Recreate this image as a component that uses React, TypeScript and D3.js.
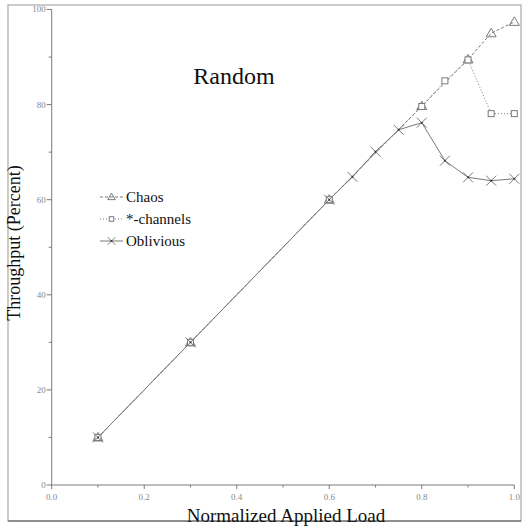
import * as d3 from "d3";

// loads on the x axis
const chaosLoad = [0.1, 0.3, 0.6, 0.8, 0.9, 0.95, 1.0];
const chaosThroughput = [10, 30, 60, 79.7, 89.5, 95, 97.4];

const starLoad = [0.1, 0.3, 0.6, 0.8, 0.85, 0.9, 0.95, 1.0];
const starThroughput = [10, 30, 60, 79.6, 85, 89.4, 78.1, 78.1];

const obliviousLoad = [0.1, 0.3, 0.6, 0.65, 0.7, 0.75, 0.8, 0.85, 0.9, 0.95, 1.0];
const obliviousThroughput = [10, 30, 60, 64.8, 70.1, 74.7, 76.2, 68.2, 64.7, 64.0, 64.4];

const xTicks = [0, 0.2, 0.4, 0.6, 0.8, 1.0];
const yTicks = [0, 20, 40, 60, 80, 100];
const legendNames = ["Chaos", "*-channels", "Oblivious"];

const W = 523;
const H = 527;
const serif = "'Liberation Serif', 'DejaVu Serif', serif";
const grey = "#7a7a7a";

type Pt = [number, number];

function Marker({ kind, x, y, s = 1 }: { kind: string; x: number; y: number; s?: number }) {
  if (kind === "tri") {
    return (
      <path
        d={`M${x},${y - 5 * s}L${x + 5 * s},${y + 3.5 * s}L${x - 5 * s},${y + 3.5 * s}Z`}
        fill="none"
        stroke={grey}
        strokeWidth={1}
      />
    );
  }
  if (kind === "sq") {
    return <rect x={x - 3 * s} y={y - 3 * s} width={6 * s} height={6 * s} fill="white" stroke={grey} strokeWidth={1} />;
  }
  return (
    <g stroke={grey} strokeWidth={1}>
      <line x1={x - 5 * s} y1={y - 5 * s} x2={x + 5 * s} y2={y + 5 * s} />
      <line x1={x - 5 * s} y1={y + 5 * s} x2={x + 5 * s} y2={y - 5 * s} />
      <circle cx={x} cy={y} r={1} fill="#333" stroke="none" />
    </g>
  );
}

export default function App() {
  const x = d3.scaleLinear().domain([0, 1]).range([51.7, 514.3]);
  const y = d3.scaleLinear().domain([0, 100]).range([485, 9.5]);
  const line = d3
    .line<Pt>()
    .x((d) => x(d[0]))
    .y((d) => y(d[1]));

  const series = [
    { name: legendNames[0], pts: chaosLoad.map((l, i) => [l, chaosThroughput[i]] as Pt), kind: "tri", dash: "3,2" },
    { name: legendNames[1], pts: starLoad.map((l, i) => [l, starThroughput[i]] as Pt), kind: "sq", dash: "1,2" },
    { name: legendNames[2], pts: obliviousLoad.map((l, i) => [l, obliviousThroughput[i]] as Pt), kind: "x", dash: undefined },
  ];

  const xMinor = d3.range(0.1, 1, 0.2);
  const yMinor = d3.range(10, 100, 20);

  return (
    <svg
      width={W}
      height={H}
      style={{ position: "absolute", left: 0, top: 0, background: "white" }}
      fontFamily={serif}
    >
      <rect x={8} y={5} width={513} height={516} fill="none" stroke="#aaa" strokeWidth={1.2} />
      <line x1={8} y1={521} x2={521} y2={521} stroke="#555" strokeWidth={1.2} />

      {/* axes */}
      <line x1={x(0)} y1={y(0)} x2={x(1)} y2={y(0)} stroke={grey} />
      <line x1={x(0)} y1={y(0)} x2={x(0)} y2={y(100)} stroke={grey} />
      {yTicks.map((t) => (
        <g key={"y" + t}>
          <line x1={x(0) - 5} x2={x(0)} y1={y(t)} y2={y(t)} stroke={grey} />
          <text x={x(0) - 6} y={y(t)} dy="0.33em" fontSize={9} textAnchor="end" fill="#888">
            {t}
          </text>
        </g>
      ))}
      {yMinor.map((t) => (
        <line key={"ym" + t} x1={x(0) - 3} x2={x(0)} y1={y(t)} y2={y(t)} stroke={grey} />
      ))}
      {xTicks.map((t) => (
        <g key={"x" + t}>
          <line x1={x(t)} x2={x(t)} y1={y(0)} y2={y(0) + 4} stroke={grey} />
          <text x={x(t)} y={y(0) + 15} fontSize={9} textAnchor="middle" fill="#888">
            {t.toFixed(1)}
          </text>
        </g>
      ))}
      {xMinor.map((t) => (
        <line key={"xm" + t} x1={x(t)} x2={x(t)} y1={y(0)} y2={y(0) + 2.5} stroke={grey} />
      ))}

      {/* axis titles */}
      <text x={286} y={522} fontSize={19} textAnchor="middle" fill="#111">
        Normalized Applied Load
      </text>
      <text
        transform={`translate(20,243) rotate(-90)`}
        fontSize={18}
        textAnchor="middle"
        fill="#111"
      >
        Throughput (Percent)
      </text>
      <text x={234} y={84} fontSize={24} textAnchor="middle" fill="#111">
        Random
      </text>

      {/* series */}
      {series.map((s) => (
        <path key={s.name} d={line(s.pts) ?? ""} fill="none" stroke={grey} strokeWidth={1} strokeDasharray={s.dash} />
      ))}
      {series.map((s) =>
        s.pts.map((p, i) => <Marker key={s.name + i} kind={s.kind} x={x(p[0])} y={y(p[1])} />)
      )}

      {/* legend */}
      {series.map((s, i) => {
        const ly = 197 + i * 22;
        return (
          <g key={"lg" + s.name}>
            <line x1={100} x2={123} y1={ly} y2={ly} stroke={grey} strokeDasharray={s.dash} />
            <Marker kind={s.kind} x={111.5} y={ly} s={0.75} />
            <text x={126} y={ly} dy="0.33em" fontSize={15} fill="#111">
              {s.name}
            </text>
          </g>
        );
      })}
    </svg>
  );
}
